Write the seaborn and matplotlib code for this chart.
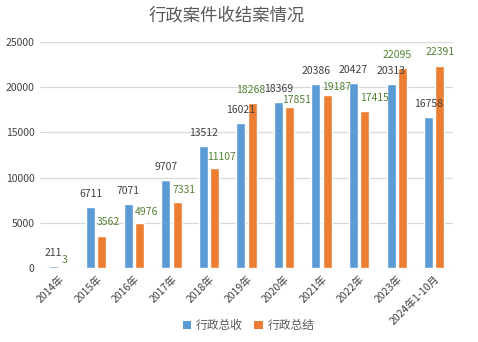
import matplotlib
matplotlib.use("Agg")
import matplotlib.pyplot as plt
import seaborn as sns
import pandas as pd
from matplotlib.patches import Patch

categories = ["2014年", "2015年", "2016年", "2017年", "2018年", "2019年",
              "2020年", "2021年", "2022年", "2023年", "2024年1-10月"]
shou = [211, 6711, 7071, 9707, 13512, 16021, 18369, 20386, 20427, 20313, 16758]
jie = [3, 3562, 4976, 7331, 11107, 18268, 17851, 19187, 17415, 22095, 22391]
series_names = ["行政总收", "行政总结"]
yticks = [0, 5000, 10000, 15000, 20000, 25000]

# label placement offsets (pixels) relative to bar top centre
shou_dx = [0] * 11
shou_dy = [13] * 11
jie_dx = [0, 6, 7, 6.5, 7, -1, 7, 9, 10, -5, 0]
jie_dy = [8, 14, 11, 12, 11, 13, 7, 8, 13, 13, 14]

sns.set_theme(style="white")
plt.rcParams['font.family'] = ['Noto Sans CJK SC', 'DejaVu Sans']

df = pd.DataFrame({
    "cat": categories * 2,
    "val": shou + jie,
    "series": [series_names[0]] * len(categories) + [series_names[1]] * len(categories),
})

colors = ["#5B9BD5", "#ED7D31"]
label_colors = ["#404040", "#548235"]

fig = plt.figure(figsize=(4.78, 3.42), dpi=100)
ax = fig.add_axes([40 / 478, 74 / 342, 413 / 478, 226 / 342])
sns.barplot(data=df, x="cat", y="val", hue="series", palette=colors,
            width=0.6, gap=0.2, ax=ax, legend=False, saturation=1)

offsets = [(shou_dx, shou_dy, shou), (jie_dx, jie_dy, jie)]
for i, cont in enumerate(ax.containers):
    dxs, dys, vals = offsets[i]
    for j, patch in enumerate(cont.patches):
        xc = patch.get_x() + patch.get_width() / 2
        h = patch.get_height()
        ax.annotate(str(vals[j]), xy=(xc, h), xytext=(dxs[j] * 0.72, dys[j] * 0.72),
                    textcoords="offset points", ha="center", va="center",
                    fontsize=7.5, color=label_colors[i])

ax.set_xlim(-0.5, len(categories) - 0.5)
ax.set_ylim(0, 25000)
ax.set_yticks(yticks)
ax.set_yticklabels([str(v) for v in yticks], fontsize=7.5, color="#404040")
ax.yaxis.grid(True, color="#D9D9D9", linewidth=0.9)
ax.set_axisbelow(True)
for s in ax.spines.values():
    s.set_visible(False)
ax.tick_params(axis="both", length=0, pad=4)
ax.set_xlabel("")
ax.set_ylabel("")
plt.setp(ax.get_xticklabels(), rotation=45, ha="right", rotation_mode="anchor",
         fontsize=7.5, color="#404040")

fig.text(0.475, 0.955, "行政案件收结案情况", ha="center", va="center",
         fontsize=12.5, color="#595959")

handles = [Patch(facecolor=c, edgecolor="none") for c in colors]
fig.legend(handles, series_names, loc="center", bbox_to_anchor=(0.52, 0.048),
           ncol=2, frameon=False, fontsize=8.5, handlelength=0.7, handleheight=0.7,
           handletextpad=0.4, columnspacing=1.0, labelcolor="#595959")

fig.savefig("out.png", dpi=100)
